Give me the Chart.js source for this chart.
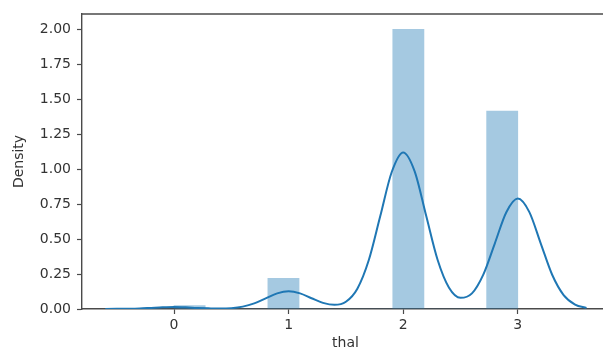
<!DOCTYPE html>
<html>
<head>
<meta charset="utf-8">
<script src="https://cdn.jsdelivr.net/npm/chart.js@4/dist/chart.umd.min.js"></script>
<style>
  html, body { margin: 0; padding: 0; overflow: hidden; background: #fff; }
  #wrap { width: 609px; height: 352px; }
</style>
</head>
<body>
<div id="wrap"><canvas id="chart" width="609" height="352"></canvas></div>
<script>
// histogram of thal (11 bins from 0 to 3), density
const binCenters = [0.136, 0.409, 0.682, 0.955, 1.227, 1.5, 1.773, 2.045, 2.318, 2.591, 2.864];
const binDensity = [0.025, 0, 0, 0.22, 0, 0, 0, 2.0, 0, 0, 1.415];

// kde curve
const kdeX = [-0.6, -0.5, -0.4, -0.3, -0.2, -0.1, 0.0, 0.1, 0.2, 0.3, 0.4, 0.5, 0.6, 0.7, 0.8, 0.9,
  1.0, 1.1, 1.2, 1.3, 1.4, 1.5, 1.6, 1.7, 1.8, 1.9, 2.0, 2.1, 2.2, 2.3, 2.4, 2.5, 2.6, 2.7, 2.8, 2.9,
  3.0, 3.1, 3.2, 3.3, 3.4, 3.5, 3.6];
const kdeY = [0.000, 0.001, 0.002, 0.004, 0.008, 0.012, 0.014, 0.012, 0.008, 0.005, 0.003, 0.006, 0.017, 0.040, 0.076, 0.112,
  0.127, 0.112, 0.077, 0.044, 0.030, 0.052, 0.145, 0.350, 0.665, 0.980, 1.120, 0.985, 0.668, 0.352, 0.152, 0.080, 0.112, 0.248, 0.470, 0.692,
  0.790, 0.695, 0.470, 0.245, 0.100, 0.032, 0.008];

const xTicks = [0, 1, 2, 3];
const yTicks = [0, 0.25, 0.5, 0.75, 1.0, 1.25, 1.5, 1.75, 2.0];

const spineColor = '#4a4a4a';
const textColor = '#333';

Chart.defaults.font.family = 'DejaVu Sans';
Chart.defaults.font.size = 14;
Chart.defaults.color = textColor;

// matplotlib style top spine
const topSpine = {
  id: 'topSpine',
  afterDraw(chart) {
    const { ctx, chartArea } = chart;
    ctx.save();
    ctx.strokeStyle = spineColor;
    ctx.lineWidth = 1.4;
    ctx.beginPath();
    ctx.moveTo(chartArea.left, chartArea.top);
    ctx.lineTo(chartArea.right, chartArea.top);
    ctx.stroke();
    ctx.restore();
  }
};

new Chart(document.getElementById('chart'), {
  type: 'bar',
  data: {
    datasets: [
      {
        type: 'line',
        data: kdeX.map((x, i) => ({ x: x, y: kdeY[i] })),
        borderColor: '#1f77b4',
        borderWidth: 2,
        pointRadius: 0,
        fill: false,
        cubicInterpolationMode: 'monotone',
        order: 0
      },
      {
        type: 'bar',
        data: binCenters.map((x, i) => ({ x: x, y: binDensity[i] })),
        backgroundColor: 'rgba(31, 119, 180, 0.4)',
        borderWidth: 0,
        barPercentage: 1,
        categoryPercentage: 1,
        grouped: false,
        order: 1
      }
    ]
  },
  options: {
    responsive: false,
    animation: false,
    devicePixelRatio: 1,
    layout: { padding: { top: 14, left: 0, right: 0, bottom: 0 } },
    plugins: { legend: { display: false }, tooltip: { enabled: false } },
    scales: {
      x: {
        type: 'linear',
        min: -0.803,
        max: 3.796,
        offset: false,
        grid: { display: true, offset: false, drawOnChartArea: false, drawTicks: true, tickLength: 5, tickColor: spineColor, tickWidth: 1.2 },
        border: { display: true, color: spineColor, width: 1.4 },
        ticks: { padding: 3, color: textColor, callback: v => String(v) },
        title: { display: true, text: 'thal', color: textColor, padding: { top: 0, bottom: 0 } },
        afterBuildTicks: s => { s.ticks = xTicks.map(v => ({ value: v })); },
        afterFit: s => { s.height = 43; s.paddingLeft = 0; s.paddingRight = 0; }
      },
      y: {
        min: 0,
        max: 2.11,
        grid: { display: true, drawOnChartArea: false, drawTicks: true, tickLength: 5, tickColor: spineColor, tickWidth: 1.2 },
        border: { display: true, color: spineColor, width: 1.4 },
        ticks: { padding: 6, color: textColor, callback: v => v.toFixed(2) },
        title: { display: true, text: 'Density', color: textColor, padding: { top: 11, bottom: 0 } },
        afterBuildTicks: s => { s.ticks = yTicks.map(v => ({ value: v })); },
        afterFit: s => { s.width = 82; s.paddingTop = 0; s.paddingBottom = 0; }
      }
    }
  },
  plugins: [topSpine]
});
</script>
</body>
</html>
